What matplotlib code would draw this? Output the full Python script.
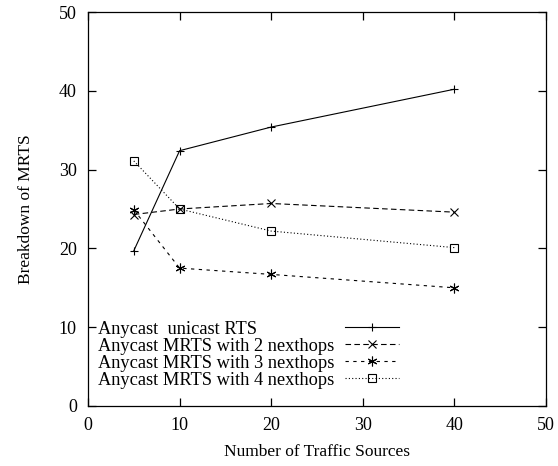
import matplotlib
matplotlib.use("Agg")
import matplotlib.pyplot as plt
from matplotlib.offsetbox import DrawingArea

plt.rcParams['font.family'] = ['Liberation Serif', 'DejaVu Serif']

x = [5, 10, 20, 40]
unicast = [19.7, 32.4, 35.4, 40.2]
mrts2 = [24.3, 25.0, 25.7, 24.6]
mrts3 = [24.9, 17.5, 16.7, 15.0]
mrts4 = [31.1, 25.0, 22.2, 20.1]
labels = ["Anycast  unicast RTS", "Anycast MRTS with 2 nexthops",
          "Anycast MRTS with 3 nexthops", "Anycast MRTS with 4 nexthops"]

fig = plt.figure(figsize=(5.58, 4.66), dpi=100)
ax = fig.add_axes([88/558, 60/466, (546-88)/558, (406-12)/466])

lw = 0.8
ax.plot(x, unicast, color='black', lw=lw, ls='-', marker='+', ms=6, mew=0.8, label=labels[0])
ax.plot(x, mrts2, color='black', lw=lw, ls=(0, (5, 3)), marker='x', ms=6, mew=0.8, label=labels[1])
ax.plot(x, mrts3, color='black', lw=lw, ls=(0, (3, 4)), marker=(6, 2, 0), ms=7, mew=0.8, label=labels[2])
ax.plot(x, mrts4, color='black', lw=lw, ls=(0, (1, 2)), marker='s', ms=6, mew=0.8, mfc='none', label=labels[3])

ax.set_xlim(0, 50)
ax.set_ylim(0, 50)
ax.set_xticks(range(0, 51, 10))
ax.set_yticks(range(0, 51, 10))
ax.tick_params(direction='in', top=True, right=True, length=6, labelsize=13, width=0.9, pad=8)
for s in ax.spines.values():
    s.set_linewidth(0.9)
ax.set_xlabel("Number of Traffic Sources", fontsize=12.5, labelpad=7)
ax.set_ylabel("Breakdown of MRTS", fontsize=12.5, labelpad=18)

leg = ax.legend(loc='lower left', bbox_to_anchor=(0.006, 0.025), frameon=False, markerfirst=False,
                fontsize=13.2, handlelength=2.9, labelspacing=0.0, handletextpad=0.3,
                borderaxespad=0.0)

# left-align the label texts while keeping samples right-aligned (gnuplot style)
fig.canvas.draw()
r = fig.canvas.get_renderer()
col = leg._legend_handle_box.get_children()[0]
col.align = 'left'
items = col.get_children()
widths = [it.get_children()[0].get_window_extent(r).width for it in items]
maxw = max(widths)
for it, w in zip(items, widths):
    sp = DrawingArea((maxw - w) * 72 / fig.dpi, 1)
    it._children.insert(1, sp)

fig.savefig("out.png", dpi=100)
